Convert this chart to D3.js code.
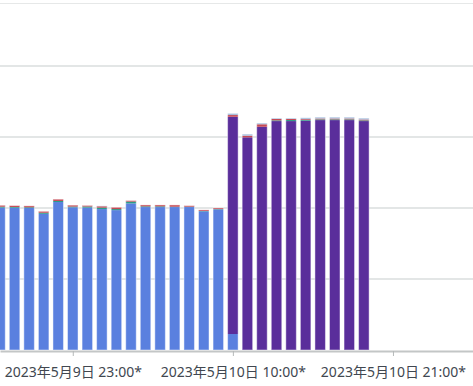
<!DOCTYPE html>
<html lang="ja">
<head>
  <meta charset="utf-8">
  <title>Hourly stacked bars</title>
  <script src="https://cdn.jsdelivr.net/npm/d3@7/dist/d3.min.js"></script>
  <style>
    body { margin: 0; background: #fff; }
    .axis text { font-family: "Noto Sans", "Noto Sans CJK JP", sans-serif; font-size: 14px; fill: #414750; }
  </style>
</head>
<body>
  <svg class="chart" width="473" height="386"></svg>
  <script>
    var width = 473, height = 386, baseY = 350, topY = 3.5;

    // one bar per hour, 2023-05-09 18:00 .. 2023-05-10 19:00
    var hours = ["2023-05-09T18:00", "2023-05-09T19:00", "2023-05-09T20:00", "2023-05-09T21:00",
                 "2023-05-09T22:00", "2023-05-09T23:00", "2023-05-10T00:00", "2023-05-10T01:00",
                 "2023-05-10T02:00", "2023-05-10T03:00", "2023-05-10T04:00", "2023-05-10T05:00",
                 "2023-05-10T06:00", "2023-05-10T07:00", "2023-05-10T08:00", "2023-05-10T09:00",
                 "2023-05-10T10:00", "2023-05-10T11:00", "2023-05-10T12:00", "2023-05-10T13:00",
                 "2023-05-10T14:00", "2023-05-10T15:00", "2023-05-10T16:00", "2023-05-10T17:00",
                 "2023-05-10T18:00", "2023-05-10T19:00"];

    var blueVals   = [200.6, 200.4, 200, 191.8, 208.4, 201, 200.6, 198.5, 197, 206.5, 201.3, 201.3,
                      201.3, 201.3, 195.3, 198, 22.5, 0, 0, 0, 0, 0, 0, 0, 0, 0];
    var purpleVals = [0, 0, 0, 0, 0, 0, 0, 0, 0, 0, 0, 0, 0, 0, 0, 0,
                      306, 299.5, 314.4, 322.4, 322.4, 322.9, 323.8, 323.8, 323.8, 322.4];
    var tealVals   = [1.2, 1, 1, 1.5, 1.5, 1, 1.5, 2, 1.5, 2.5, 1, 1, 0.5, 0.5, 0.5, 0.5,
                      0, 0, 0, 1, 1.5, 1, 1, 1, 1, 1];
    var redVals    = [2, 2, 2, 2, 2.5, 2, 1.5, 2, 2.5, 1.5, 2, 2, 2.5, 1.5, 1.5, 1.5,
                      2.4, 2.3, 3.5, 2, 1.5, 1.2, 1.2, 1.2, 1.2, 1.2];
    var lightVals  = [0, 0, 0, 0, 0, 0, 0, 0.5, 0, 0, 0, 0, 0, 0, 0, 0,
                      2.4, 2.3, 1.7, 1.2, 1.2, 2, 2, 2, 2, 2];

    var tickDates  = ["2023-05-09T23:00", "2023-05-10T10:00", "2023-05-10T21:00"];
    var tickLabels = ["2023年5月9日 23:00*", "2023年5月10日 10:00*", "2023年5月10日 21:00*"];
    var gridVals   = [100, 200, 300, 400];

    var keys = ["blue", "purple", "teal", "red", "light"];
    var colors = { blue: "#5a80df", purple: "#5a2e9b", teal: "#2b9c88", red: "#c64a55", light: "#a7c0de" };

    var parse = d3.timeParse("%Y-%m-%dT%H:%M");
    var data = hours.map(function(h, i) {
      return { t: parse(h), blue: blueVals[i], purple: purpleVals[i], teal: tealVals[i],
               red: redVals[i], light: lightVals[i] };
    });

    var x = d3.scaleTime()
              .domain([parse("2023-05-09T18:00"), parse("2023-05-11T02:30")])
              .range([0, width]);
    var y = d3.scaleLinear()
              .domain([0, 488])
              .range([baseY, topY]);

    var barW = 10.5;
    var svg = d3.select("svg.chart");

    // gridlines
    svg.append("g")
       .selectAll("line")
       .data(gridVals)
       .enter().append("line")
       .attr("x1", 0).attr("x2", width)
       .attr("y1", function(d) { return y(d); })
       .attr("y2", function(d) { return y(d); })
       .attr("stroke", "#e3e6e6")
       .attr("stroke-width", 2);
    svg.append("line")
       .attr("x1", 0).attr("x2", width)
       .attr("y1", y(488)).attr("y2", y(488))
       .attr("stroke", "#e6e8e8")
       .attr("stroke-width", 1);

    var series = d3.stack().keys(keys)(data);

    svg.append("g")
       .selectAll("g")
       .data(series)
       .enter().append("g")
       .attr("fill", function(s) { return colors[s.key]; })
       .selectAll("rect")
       .data(function(s) { return s; })
       .enter().append("rect")
       .attr("x", function(d) { return x(d.data.t) - barW / 2; })
       .attr("width", barW)
       .attr("y", function(d) { return y(d[1]); })
       .attr("height", function(d) { return y(d[0]) - y(d[1]); });

    // light bar edges
    svg.append("g")
       .selectAll("rect")
       .data(data)
       .enter().append("rect")
       .attr("x", function(d) { return x(d.t) - barW / 2; })
       .attr("width", barW)
       .attr("y", function(d) { return y(d.blue + d.purple + d.teal + d.red + d.light); })
       .attr("height", function(d) { return baseY - y(d.blue + d.purple + d.teal + d.red + d.light); })
       .attr("fill", "none")
       .attr("stroke", "#fff")
       .attr("stroke-opacity", 0.45)
       .attr("stroke-width", 1);

    var xAxis = d3.axisBottom(x)
                  .tickValues(tickDates.map(parse))
                  .tickFormat(function(d, i) { return tickLabels[i]; })
                  .tickSize(5)
                  .tickSizeOuter(0)
                  .tickPadding(11);

    var ax = svg.append("g")
                .attr("class", "axis")
                .attr("transform", "translate(0," + (baseY + 1) + ")")
                .call(xAxis);
    ax.select(".domain").attr("stroke", "#c3c6c6").attr("stroke-width", 2);
    ax.selectAll(".tick line").attr("stroke", "#b5b9b9");
  </script>
</body>
</html>
